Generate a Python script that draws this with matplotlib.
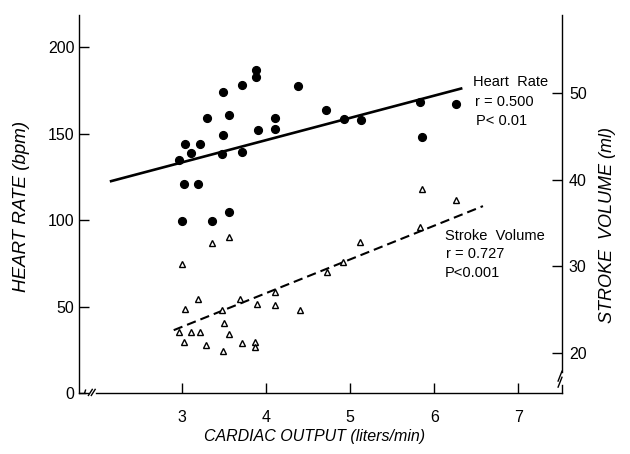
import matplotlib
matplotlib.use("Agg")
import matplotlib.pyplot as plt

# ── data ──────────────────────────────────────────────────────
hr_co = [3.88, 3.88, 3.71, 3.49, 4.38, 3.30, 3.56, 4.10, 3.90, 4.10,
         3.49, 3.04, 3.21, 3.11, 3.47, 3.71, 2.96, 3.02, 3.19, 3.00,
         3.36, 3.56, 4.71, 4.93, 5.13, 5.83, 6.26, 5.85]
hr_val = [186.7, 182.8, 178.0, 174.0, 177.5, 158.8, 160.7, 159.1, 152.0, 152.8,
          149.0, 144.0, 144.0, 138.9, 138.3, 139.1, 134.5, 121.0, 120.6, 99.4,
          99.6, 104.4, 163.6, 158.6, 158.0, 168.4, 166.9, 148.2]

sv_co = [3.36, 3.56, 3.00, 3.19, 3.04, 3.69, 3.47, 3.89, 4.10, 4.10,
         4.40, 3.50, 2.96, 3.10, 3.21, 3.56, 3.02, 3.29, 3.49, 3.71,
         3.87, 3.87, 4.73, 4.91, 5.12, 5.83, 5.85, 6.26]
sv_val = [32.7, 33.4, 30.3, 26.2, 25.1, 26.2, 25.0, 25.7, 27.0, 25.6,
          25.0, 23.5, 22.4, 22.4, 22.4, 22.2, 21.3, 20.9, 20.3, 21.2,
          21.3, 20.7, 29.4, 30.5, 32.8, 34.5, 38.9, 37.7]

# regression lines (end points as drawn)
hr_fit_x = [2.155, 6.32]
hr_fit_y = [122.5, 176.0]
sv_fit_x = [2.90, 6.58]
sv_fit_y = [22.65, 36.95]

x_ticks = [3, 4, 5, 6, 7]
hr_ticks = [0, 50, 100, 150, 200]
sv_ticks = [20, 30, 40, 50]

plt.rcParams["font.family"] = ["Liberation Sans", "DejaVu Sans"]

fig = plt.figure(figsize=(6.3, 4.54), dpi=100)
ax = fig.add_axes([0.125, 0.134, 0.767, 0.833])
ax2 = ax.twinx()

ax.set_xlim(1.77, 7.52)
ax.set_ylim(0, 218.5)
ax2.set_ylim(15.39, 58.98)

# heart rate
ax.plot(hr_co, hr_val, "o", color="black", ms=5.6, zorder=3)
ax.plot(hr_fit_x, hr_fit_y, color="black", lw=1.9)

# stroke volume
ax2.plot(sv_co, sv_val, "^", mfc="white", mec="black", mew=1.0, ms=4.8, zorder=3)
ax2.plot(sv_fit_x, sv_fit_y, color="black", lw=1.5, dashes=(4.5, 2.4))

# spines / ticks
for a in (ax, ax2):
    a.spines["top"].set_visible(False)
    for s in a.spines.values():
        s.set_linewidth(1.0)
ax.spines["right"].set_visible(False)
ax2.spines["left"].set_visible(False)
ax2.spines["bottom"].set_visible(False)
ax.spines["bottom"].set_bounds(1.97, 7.52)
ax2.spines["right"].set_bounds(17.8, 58.98)

ax.set_xticks(x_ticks)
ax.set_yticks(hr_ticks)
ax2.set_yticks(sv_ticks)
ax.tick_params(axis="both", direction="in", length=7, width=1, labelsize=11.5)
ax.tick_params(axis="y", pad=3)
ax.tick_params(axis="x", pad=12)
ax2.tick_params(axis="y", direction="in", length=7, width=1, labelsize=11.5, pad=5)

# axis breaks
brk = dict(color="black", lw=1.0, transform=ax.transAxes, clip_on=False)
ax.plot([0, 0.012], [0, 0], **brk)
ax.plot([0.012, 0.014], [0, 0.008], **brk)
ax.plot([0.020, 0.028], [-0.006, 0.010], **brk)
ax.plot([0.026, 0.034], [-0.006, 0.010], **brk)
ax.plot([0.992, 1.0], [0.032, 0.058], **brk)
ax.plot([0.992, 1.0], [0.016, 0.042], **brk)
ax.plot([1.0, 1.0], [0, 0.022], **brk)

# annotations
note = dict(fontsize=10.5, va="center")
ax.text(6.46, 179.8, "Heart  Rate", **note)
ax.text(6.48, 168.2, "r = 0.500", **note)
ax.text(6.50, 157.2, "P< 0.01", **note)
ax.text(6.13, 90.8, "Stroke  Volume", **note)
ax.text(6.14, 80.3, "r = 0.727", **note)
ax.text(6.13, 69.4, "P<0.001", **note)

lab = dict(style="italic", ha="center", va="center")
fig.text(315 / 630, 1 - 437 / 454, "CARDIAC OUTPUT (liters/min)", fontsize=11.5, **lab)
fig.text(22 / 630, 1 - 206 / 454, "HEART RATE (bpm)", fontsize=13.5, rotation=90, **lab)
fig.text(608 / 630, 1 - 225 / 454, "STROKE  VOLUME (ml)", fontsize=13, rotation=90, **lab)

fig.savefig("out.png", dpi=100, facecolor="white")
